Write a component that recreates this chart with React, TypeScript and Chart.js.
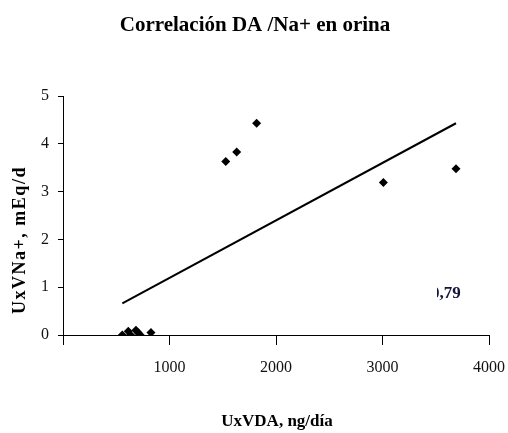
import React, { useEffect, useRef } from "react";
import { Chart, registerables } from "chart.js";

Chart.register(...registerables);

const titleText = "Correlación DA /Na+ en orina";
const xAxisLabel = "UxVDA, ng/día";
const yAxisLabel = "UxVNa+, mEq/d";
const rLabel = "0,79";

// scatter data (UxVDA ng/día, UxVNa+ mEq/d)
const daValues = [557, 613, 635, 685, 704, 725, 826, 1528, 1631, 1818, 3008, 3690];
const naValues = [0.0, 0.08, 0.0, 0.1, 0.05, 0.0, 0.05, 3.63, 3.83, 4.43, 3.19, 3.48];

// trend line endpoints
const trendX = [557, 3690];
const trendY = [0.66, 4.43];

const xTicks = [0, 1000, 2000, 3000, 4000];
const yTicks = [0, 1, 2, 3, 4, 5];

const serif = "'Liberation Serif', 'Times New Roman', serif";

const textPlugin = {
  id: "textPlugin",
  afterDraw(chart: any) {
    const ctx = chart.ctx;
    ctx.save();
    ctx.fillStyle = "#000";
    ctx.textAlign = "center";
    ctx.textBaseline = "middle";
    // title
    ctx.font = `bold 21px ${serif}`;
    ctx.fillText(titleText, 255, 26);
    // x axis title
    ctx.font = `bold 17px ${serif}`;
    ctx.fillText(xAxisLabel, 277, 422);
    // y axis title
    ctx.save();
    ctx.translate(20, 240);
    ctx.rotate(-Math.PI / 2);
    ctx.font = `bold 18px ${serif}`;
    (ctx as any).letterSpacing = "1.5px";
    ctx.fillText(yAxisLabel, 0, 0);
    ctx.restore();
    // partially hidden r label
    ctx.save();
    ctx.beginPath();
    ctx.rect(437, 280, 40, 30);
    ctx.clip();
    ctx.fillStyle = "#14143a";
    ctx.font = `bold 17px ${serif}`;
    ctx.textAlign = "left";
    ctx.fillText(rLabel, 431, 294);
    ctx.restore();
    ctx.restore();
  },
};

export default function App() {
  const ref = useRef<HTMLCanvasElement>(null);
  useEffect(() => {
    document.body.style.margin = "0";
    const pts = daValues.map((x, i) => ({ x, y: naValues[i] }));
    const trend = trendX.map((x, i) => ({ x, y: trendY[i] }));
    const chart = new Chart(ref.current!, {
      type: "scatter",
      data: {
        datasets: [
          {
            data: pts,
            pointStyle: "rectRot",
            pointRadius: 4.5,
            backgroundColor: "#000",
            borderColor: "#000",
            borderWidth: 0,
          },
          {
            type: "line",
            data: trend,
            showLine: true,
            borderColor: "#000",
            borderWidth: 2,
            pointRadius: 0,
            fill: false,
          } as any,
        ],
      },
      options: {
        responsive: false,
        animation: false,
        devicePixelRatio: 1,
        layout: { padding: { top: 96, right: 19, left: 0, bottom: 0 } },
        plugins: {
          legend: { display: false },
          title: { display: false },
          tooltip: { enabled: false },
        },
        scales: {
          x: {
            type: "linear",
            min: 0,
            max: 4000,
            afterBuildTicks: (s: any) => {
              s.ticks = xTicks.map((v) => ({ value: v }));
            },
            afterFit: (s: any) => {
              s.height = 433 - 335;
              s.paddingLeft = 0;
              s.paddingRight = 0;
            },
            ticks: {
              color: "#111",
              font: { family: serif, size: 16 },
              padding: 13,
              maxRotation: 0,
              callback: (v: any) => (v === 0 ? "" : String(v)),
            },
            grid: {
              drawOnChartArea: false,
              drawTicks: true,
              tickLength: 10,
              color: "#000",
            },
            border: { color: "#000", width: 1 },
          },
          y: {
            type: "linear",
            min: 0,
            max: 5,
            afterBuildTicks: (s: any) => {
              s.ticks = yTicks.map((v) => ({ value: v }));
            },
            afterFit: (s: any) => {
              s.width = 63;
              s.paddingTop = 0;
              s.paddingBottom = 0;
            },
            ticks: {
              color: "#111",
              font: { family: serif, size: 16 },
              padding: 9,
            },
            grid: {
              drawOnChartArea: false,
              drawTicks: true,
              tickLength: 5,
              color: "#000",
            },
            border: { color: "#000", width: 1 },
          },
        },
      },
      plugins: [textPlugin],
    });
    return () => chart.destroy();
  }, []);
  return (
    <div style={{ width: 508, height: 433 }}>
      <canvas ref={ref} width={508} height={433} style={{ display: "block" }} />
    </div>
  );
}
